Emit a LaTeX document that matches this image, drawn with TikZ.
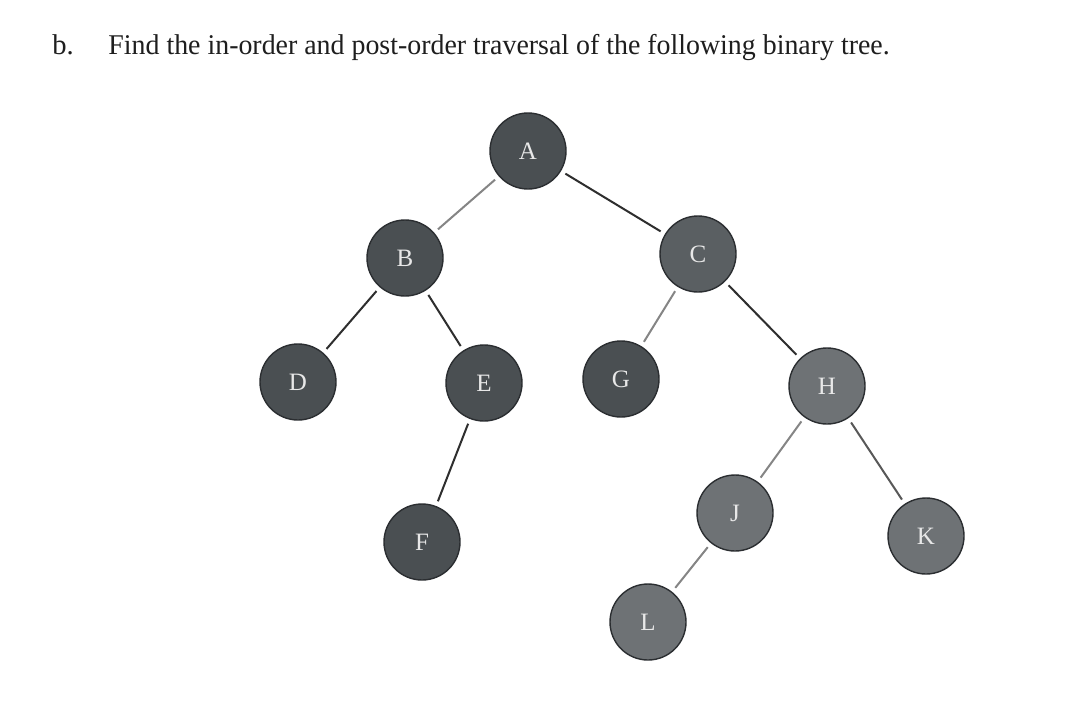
\documentclass[tikz,border=0pt]{standalone}
\usepackage{fontspec}
\setmainfont{Liberation Serif}
\definecolor{ndark}{HTML}{4A4F52}
\definecolor{nmid}{HTML}{5A5F62}
\definecolor{nlight}{HTML}{6E7275}
\definecolor{nborder}{HTML}{2B2E31}
\definecolor{ntext}{HTML}{E8E8E8}
\definecolor{edark}{HTML}{2E2E2E}
\definecolor{elight}{HTML}{858585}
\definecolor{ttext}{HTML}{1E1E1E}
\begin{document}
\begin{tikzpicture}[x=0.5pt,y=-0.5pt,
  treenode/.style={circle, minimum size=38pt, inner sep=0pt, draw=nborder, line width=0.7pt, fill=#1, text=ntext, font=\fontsize{12.5}{12.5}\selectfont},
  treenode/.default=ndark,
  edgeline/.style={line width=1pt, draw=#1, shorten <=2.5pt, shorten >=2.5pt},
  edgeline/.default=edark,
  titletext/.style={anchor=base west, inner sep=0pt, text=ttext, font=\fontsize{14.3}{14.3}\selectfont}]
\useasboundingbox[fill=white] (0,0) rectangle (1090,723);
% title
\node[titletext] (lbl) at (52,54) {b.};
\node[titletext] (q) at (108,54) {\scalebox{0.975}[1]{Find the in-order and post-order traversal of the following binary tree.}};
% nodes
\node[treenode] (A) at (528,151) {A};
\node[treenode] (B) at (405,258) {B};
\node[treenode=nmid] (C) at (698,254) {C};
\node[treenode] (D) at (298,382) {D};
\node[treenode] (E) at (484,383) {E};
\node[treenode] (G) at (621,379) {G};
\node[treenode=nlight] (H) at (827,386) {H};
\node[treenode] (F) at (422,542) {F};
\node[treenode=nlight] (J) at (735,513) {J};
\node[treenode=nlight] (K) at (926,536) {K};
\node[treenode=nlight] (L) at (648,622) {L};
% edges
\draw[edgeline=elight] (A) -- (B);
\draw[edgeline] (A) -- (C);
\draw[edgeline] (B) -- (D);
\draw[edgeline] (B) -- (E);
\draw[edgeline=elight] (C) -- (G);
\draw[edgeline] (C) -- (H);
\draw[edgeline] (E) -- (F);
\draw[edgeline=elight] (H) -- (J);
\draw[edgeline=edark!80!white] (H) -- (K);
\draw[edgeline=elight] (J) -- (L);
\end{tikzpicture}
\end{document}
